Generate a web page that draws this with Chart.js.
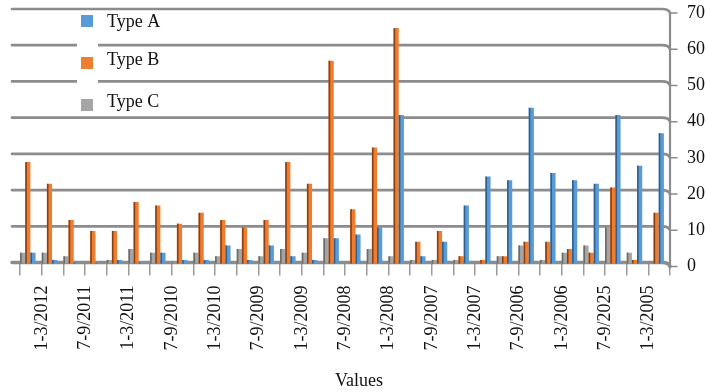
<!DOCTYPE html>
<html>
<head>
<meta charset="utf-8">
<title>Quarterly values by type</title>
<script src="https://cdn.jsdelivr.net/npm/chart.js@4.4.1/dist/chart.umd.min.js"></script>
<style>
  html, body { margin: 0; padding: 0; background: #ffffff; }
  canvas { display: block; }
</style>
</head>
<body>
<canvas id="chart" width="706" height="392"></canvas>
<script>
// Quarters, newest first
const quarters = [
  '1-3/2012', '10-12/2011', '7-9/2011', '4-6/2011', '1-3/2011', '10-12/2010',
  '7-9/2010', '4-6/2010', '1-3/2010', '10-12/2009', '7-9/2009', '4-6/2009',
  '1-3/2009', '10-12/2008', '7-9/2008', '4-6/2008', '1-3/2008', '10-12/2007',
  '7-9/2007', '4-6/2007', '1-3/2007', '10-12/2006', '7-9/2006', '4-6/2006',
  '1-3/2006', '10-12/2005', '7-9/2025', '4-6/2005', '1-3/2005', '10-12/2004'
];

const typeA = [3, 1, 0.3, 0.2, 1, 0.3, 3, 1, 1, 5, 1, 5, 2, 1, 7,
               8, 10, 41, 2, 6, 16, 24, 23, 43, 25, 23, 22, 41, 27, 36];
const typeB = [28, 22, 12, 9, 9, 17, 16, 11, 14, 12, 10, 12, 28, 22, 56,
               15, 32, 65, 6, 9, 2, 1, 2, 6, 6, 4, 3, 21, 1, 14];
const typeC = [3, 3, 2, 0, 1, 4, 3, 0.3, 3, 2, 4, 2, 4, 3, 7,
               0, 4, 2, 1, 1, 1, 0, 2, 5, 1, 3, 5, 10, 3, 0];

const yTicks = [0, 10, 20, 30, 40, 50, 60, 70];
const xAxisTitle = 'Values';

const colors = { A: '#5B9BD5', B: '#ED7D31', C: '#A5A5A5' };
const sideShade = { A: '#2f5f8e', B: '#8a3f10', C: '#6a6a6a' };
const serif = '"Liberation Serif", "Times New Roman", serif';

// Back-wall gridlines, right wall edge, shaded bar sides, legend and axis title
const wallAndLegend = {
  id: 'wallAndLegend',
  beforeDatasetsDraw(chart) {
    const { ctx, chartArea: a, scales: { y } } = chart;
    ctx.save();
    ctx.strokeStyle = '#8c8c8c';
    ctx.lineCap = 'round';
    yTicks.forEach(v => {
      const py = y.getPixelForValue(v);
      ctx.lineWidth = v === 0 ? 3.5 : 2.7;
      ctx.beginPath();
      ctx.moveTo(12, py - 1);
      ctx.lineTo(a.right - 8, py - 1);
      ctx.quadraticCurveTo(a.right - 1, py - 1, a.right, py + 3);
      ctx.stroke();
      ctx.lineWidth = 1.5;
      ctx.beginPath();
      ctx.moveTo(a.right, py + 3);
      ctx.lineTo(a.right + 7, py + 3);
      ctx.stroke();
    });
    ctx.lineWidth = 2.2;
    ctx.beginPath();
    ctx.moveTo(a.right, y.getPixelForValue(70) + 3);
    ctx.lineTo(a.right, y.getPixelForValue(0) + 4);
    ctx.stroke();
    ctx.restore();
    // bars sit toward the left of each category slot
    ctx.save();
    ctx.translate(-3, 0);
  },
  afterDatasetsDraw(chart) {
    const { ctx } = chart;
    chart.data.datasets.forEach((ds, i) => {
      const meta = chart.getDatasetMeta(i);
      ctx.fillStyle = sideShade[ds.key];
      meta.data.forEach(bar => {
        const h = bar.base - bar.y;
        if (h <= 0.5) return;
        ctx.fillRect(bar.x - bar.width / 2, bar.y, 1.6, h);
      });
    });
    ctx.restore();

    // legend
    ctx.save();
    ctx.fillStyle = '#ffffff';
    ctx.fillRect(77, 30, 21, 64);
    const items = [
      { key: 'A', text: 'Type A', top: 15, base: 27 },
      { key: 'B', text: 'Type B', top: 57, base: 65 },
      { key: 'C', text: 'Type C', top: 99, base: 107 }
    ];
    ctx.font = '18px ' + serif;
    ctx.textBaseline = 'alphabetic';
    ctx.textAlign = 'left';
    items.forEach(it => {
      ctx.fillStyle = colors[it.key];
      ctx.fillRect(81, it.top, 12, 12);
      ctx.fillStyle = '#111';
      ctx.fillText(it.text, 107, it.base);
    });

    // category axis title
    ctx.textAlign = 'center';
    ctx.fillText(xAxisTitle, 359, 386);
    ctx.restore();
  }
};

new Chart(document.getElementById('chart'), {
  type: 'bar',
  data: {
    labels: quarters,
    datasets: [
      { key: 'C', label: 'Type C', data: typeC, backgroundColor: colors.C },
      { key: 'B', label: 'Type B', data: typeB, backgroundColor: colors.B },
      { key: 'A', label: 'Type A', data: typeA, backgroundColor: colors.A }
    ]
  },
  options: {
    responsive: false,
    animation: false,
    devicePixelRatio: 1,
    layout: { padding: { left: 20, top: 10, right: 0, bottom: 0 } },
    datasets: { bar: { categoryPercentage: 0.715, barPercentage: 1.0 } },
    plugins: { legend: { display: false }, tooltip: { enabled: false } },
    scales: {
      x: {
        offset: true,
        border: { display: false },
        grid: {
          display: true, offset: true, drawOnChartArea: false,
          drawTicks: true, tickLength: 12, color: '#9a9a9a', lineWidth: 1.5
        },
        ticks: {
          autoSkip: false, minRotation: 90, maxRotation: 90,
          padding: 10, labelOffset: 11, color: '#111',
          font: { family: serif, size: 18 },
          callback: (v, i) => (i % 2 === 0 ? quarters[i] : '')
        },
        title: { display: false },
        afterFit: axis => { axis.height = 128.5; }
      },
      y: {
        position: 'right',
        min: 0, max: 70,
        grid: { display: false, drawTicks: false },
        border: { display: false },
        afterBuildTicks: axis => { axis.ticks = yTicks.map(v => ({ value: v })); },
        ticks: {
          padding: 17, labelOffset: 3, color: '#111',
          font: { family: serif, size: 18 }
        },
        afterFit: axis => {
          axis.width = 36;
          axis.paddingTop = 0;
          axis.paddingBottom = 0;
        }
      }
    }
  },
  plugins: [wallAndLegend]
});
</script>
</body>
</html>
